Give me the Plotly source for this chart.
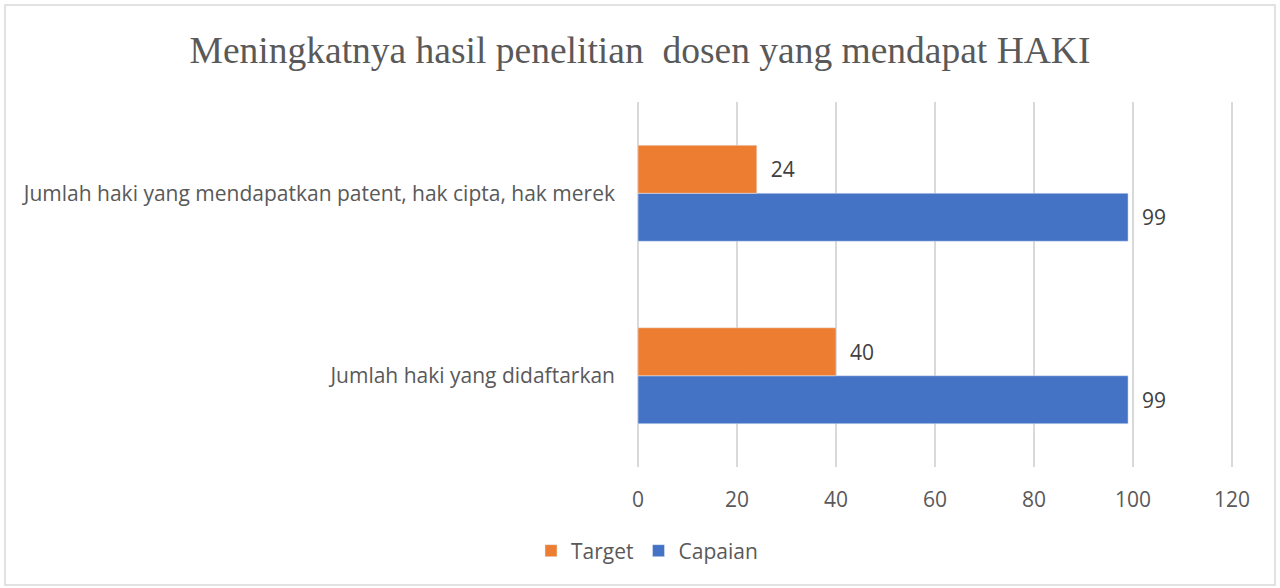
import plotly.graph_objects as go

categories = ["Jumlah haki yang didaftarkan", "Jumlah haki yang mendapatkan patent, hak cipta, hak merek"]
target = [40, 24]
capaian = [99, 99]
x_ticks = [0, 20, 40, 60, 80, 100, 120]

W, H = 1280, 588
L, R, T, B = 638, 46, 102, 121
pw, ph = W - L - R, H - T - B

def px_x(p):
    return (p - L) / pw

def px_y(p):
    return (H - B - p) / ph

font_main = "'Open Sans', sans-serif"
FS = 21
label_font = dict(family=font_main, size=FS, color="#404040")
fig = go.Figure()
fig.add_trace(go.Bar(y=categories, x=capaian, name="Capaian", orientation="h",
                     marker_color="#4472C4", text=capaian, textposition="outside",
                     texttemplate="\u00a0\u00a0%{x}", textfont=label_font,
                     cliponaxis=False, legendrank=2))
fig.add_trace(go.Bar(y=categories, x=target, name="Target", orientation="h",
                     marker_color="#ED7D31", text=target, textposition="outside",
                     texttemplate="\u00a0\u00a0%{x}", textfont=label_font,
                     cliponaxis=False, legendrank=1))

fig.update_layout(
    width=W, height=H,
    margin=dict(l=L, r=R, t=T, b=B, autoexpand=False),
    paper_bgcolor="white", plot_bgcolor="white",
    barmode="group", bargap=0.474, bargroupgap=0,
    title=dict(text="Meningkatnya hasil penelitian  dosen yang mendapat HAKI",
               x=0.5, xanchor="center", y=1 - 50 / H, yanchor="middle",
               font=dict(family="'Liberation Serif', 'Times New Roman', serif", size=37.5, color="#595959")),
    xaxis=dict(range=[0, 120.4], tickvals=x_ticks, showgrid=True, gridcolor="#d9d9d9", gridwidth=1.5,
               zeroline=True, zerolinecolor="#d9d9d9", zerolinewidth=1.5,
               showline=False, ticks="", ticklabelstandoff=18,
               tickfont=dict(family=font_main, size=FS, color="#595959")),
    yaxis=dict(showgrid=False, zeroline=False, showline=False, ticks="", ticklabelstandoff=22,
               tickfont=dict(family=font_main, size=FS, color="#595959")),
    legend=dict(orientation="h", x=px_x(647), xanchor="center", y=px_y(551), yanchor="middle",
                font=dict(family=font_main, size=FS, color="#595959"), traceorder="normal",
                itemwidth=30),
    showlegend=True,
)
fig.add_shape(type="rect", xref="paper", yref="paper",
              x0=px_x(5), x1=px_x(1275), y0=px_y(585), y1=px_y(5),
              line=dict(color="#d9d9d9", width=1.5), layer="below")

fig.write_html("out.html", config={"displayModeBar": False},
               post_script="document.body.style.margin='0';document.body.style.overflow='hidden';")
